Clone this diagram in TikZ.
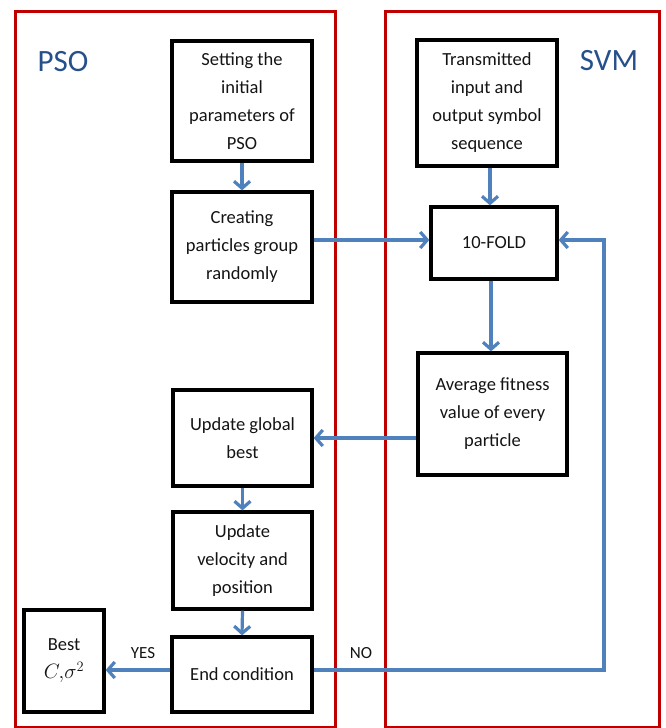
\documentclass[tikz,border=0pt]{standalone}
\usepackage{fontspec}
\setmainfont{Carlito}
\usetikzlibrary{arrows.meta}
\definecolor{laneRed}{RGB}{192,0,0}
\definecolor{flowBlue}{RGB}{79,129,189}
\definecolor{titleBlue}{RGB}{38,80,138}
\definecolor{inkText}{RGB}{20,20,20}
\begin{document}
\begin{tikzpicture}[x=1pt,y=-1pt,
  box/.style={draw=black, line width=3.3pt, align=center, inner sep=0pt,
    text=inkText, font=\fontsize{18.5}{28}\selectfont},
  flow/.style={draw=flowBlue, line width=3.2pt,
    -{Straight Barb[length=7pt,width=16pt,line width=3.2pt]}},
  lane/.style={draw=laneRed, line width=3pt},
  title/.style={text=titleBlue, font=\fontsize{31}{31}\selectfont},
  tag/.style={text=inkText, font=\fontsize{17}{17}\selectfont}]
\useasboundingbox (0,0) rectangle (665,728);

% the two swim lanes
\draw[lane] (15,11) rectangle (335,727);
\draw[lane] (385,11) rectangle (659,727);
\node[title] (psoT) at (63,62) {PSO};
\node[title] (svmT) at (609,61) {SVM};

% PSO steps
\node[box, minimum width=140pt, minimum height=120pt] (set) at (242,101)
  {Setting the\\initial\\parameters of\\PSO};
\node[box, minimum width=140pt, minimum height=110pt] (cre) at (242,247)
  {Creating\\particles group\\randomly};
\node[box, minimum width=139pt, minimum height=96pt] (upd) at (242.5,438)
  {Update global\\best};
\node[box, minimum width=139pt, minimum height=97pt] (vel) at (242.5,560.5)
  {Update\\velocity and\\position};
\node[box, minimum width=140pt, minimum height=75pt] (endc) at (242,674.5)
  {End condition};
\node[box, minimum width=80pt, minimum height=102pt] (best) at (64,661)
  {Best\\{\fontsize{20}{24}\selectfont$C,\!\sigma^2$}};

% SVM steps
\node[box, minimum width=140pt, minimum height=126pt] (trans) at (487,103)
  {Transmitted\\input and\\output symbol\\sequence};
\node[box, minimum width=126pt, minimum height=72pt] (fold) at (494,243)
  {10-FOLD};
\node[box, minimum width=149pt, minimum height=122pt] (avg) at (492.5,414)
  {Average fitness\\value of every\\particle};

% helper points for the connector rows
\coordinate (rowA) at (0,240);
\coordinate (rowE) at (0,670);
\coordinate (loopTop) at (604,240);

% connectors
\draw[flow] (set.south) -- (cre.north);
\draw[flow] (cre.east |- rowA) -- (fold.west |- rowA);
\draw[flow] (trans.south -| 490,0) -- (fold.north -| 490,0);
\draw[flow] (fold.south -| 491,0) -- (avg.north -| 491,0);
\draw[flow] (avg.west |- upd.east) -- (upd.east);
\draw[flow] (upd.south) -- (vel.north);
\draw[flow] (vel.south) -- (endc.north);
\draw[flow] (endc.west |- rowE) -- (best.east |- rowE);
\draw[flow] (endc.east |- rowE) -| (loopTop) -- (fold.east |- rowA);

% branch labels
\node[tag] (yes) at (143,653) {YES};
\node[tag] (no) at (361,653) {NO};
\end{tikzpicture}
\end{document}
